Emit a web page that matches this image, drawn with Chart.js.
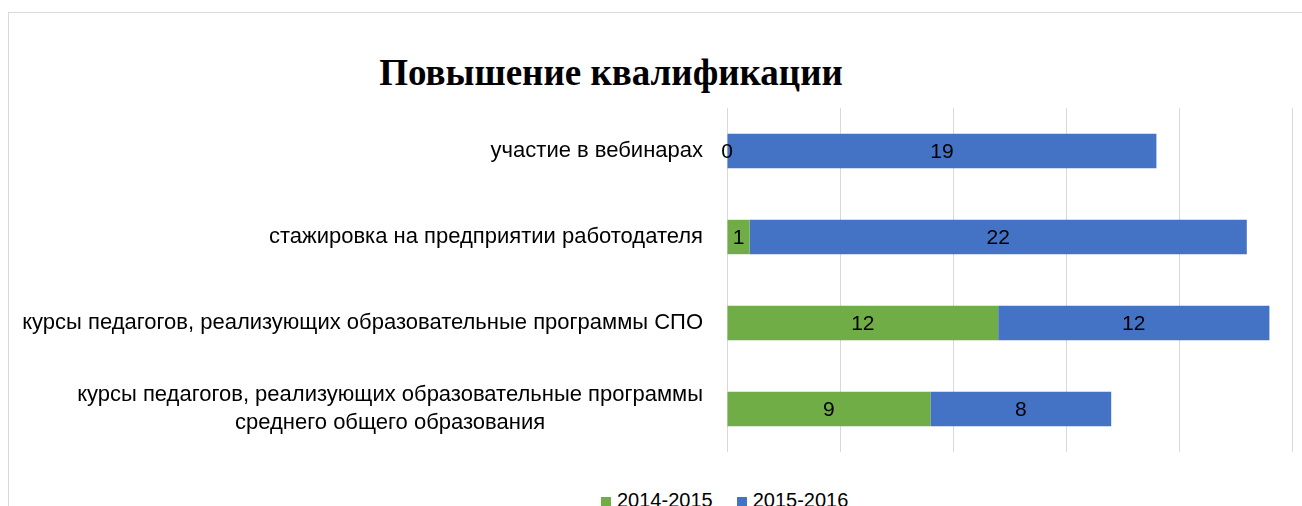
<!DOCTYPE html>
<html>
<head>
<meta charset="utf-8">
<script src="https://cdn.jsdelivr.net/npm/chart.js@4.4.1/dist/chart.umd.min.js"></script>
<style>
  html, body { margin: 0; padding: 0; background: #fff; }
  #wrap { position: relative; width: 1302px; height: 506px; overflow: hidden; }
  #frame { position: absolute; left: 8px; top: 12px; width: 1300px; height: 600px;
           border-left: 1px solid #d9d9d9; border-top: 1px solid #d9d9d9; }
  #title { position: absolute; left: 311px; width: 600px; top: 51px; text-align: center;
           font: bold 37px "Liberation Serif", "Times New Roman", serif; color: #000; }
  #legend { position: absolute; left: 601px; top: 489px; white-space: nowrap;
            font: 20px "Liberation Sans", sans-serif; color: #000; }
  #legend span.sw { display: inline-block; width: 10px; height: 10px; margin-right: 6px; }
  #legend span.item { margin-right: 24px; }
  canvas { position: absolute; left: 0; top: 0; }
</style>
</head>
<body>
<div id="wrap">
  <div id="frame"></div>
  <div id="title">Повышение квалификации</div>
  <div id="legend"></div>
  <canvas id="c" width="1302" height="506"></canvas>
</div>
<script>
// categories, top to bottom
const categories = [
  "участие в вебинарах",
  "стажировка на предприятии работодателя",
  "курсы педагогов, реализующих образовательные программы СПО",
  ["курсы педагогов, реализующих образовательные программы", "среднего общего образования"]
];
const series1Name = "2014-2015";
const series2Name = "2015-2016";
const series1 = [0, 1, 12, 9];
const series2 = [19, 22, 12, 8];
const xTicks = [0, 5, 10, 15, 20, 25];

const GREEN = "#70AD47", BLUE = "#4472C4";
const FONT = '"Liberation Sans", sans-serif';

// html legend
document.getElementById("legend").innerHTML =
  `<span class="item"><span class="sw" style="background:${GREEN}"></span>${series1Name}</span>` +
  `<span class="item"><span class="sw" style="background:${BLUE}"></span>${series2Name}</span>`;

const labelsPlugin = {
  id: "labelsPlugin",
  afterDatasetsDraw(chart) {
    const ctx = chart.ctx;
    ctx.save();
    ctx.fillStyle = "#000";
    ctx.font = "21px " + FONT;
    ctx.textAlign = "center";
    ctx.textBaseline = "middle";
    chart.data.datasets.forEach((ds, i) => {
      chart.getDatasetMeta(i).data.forEach((bar, j) => {
        ctx.fillText(String(ds.data[j]), (bar.x + bar.base) / 2, bar.y + 1);
      });
    });
    // category labels
    ctx.font = "22px " + FONT;
    const y = chart.scales.y;
    const right = chart.chartArea.left - 24;
    chart.data.labels.forEach((lab, j) => {
      const py = y.getPixelForValue(j);
      if (Array.isArray(lab)) {
        const w = Math.max(...lab.map(l => ctx.measureText(l).width));
        const cx = right - w / 2;
        ctx.textAlign = "center";
        const lh = 28;
        lab.forEach((l, k) => ctx.fillText(l, cx, py + (k - (lab.length - 1) / 2) * lh));
      } else {
        ctx.textAlign = "right";
        ctx.fillText(lab, right, py);
      }
    });
    ctx.restore();
  }
};

new Chart(document.getElementById("c"), {
  type: "bar",
  data: {
    labels: categories,
    datasets: [
      { label: series1Name, data: series1, backgroundColor: GREEN },
      { label: series2Name, data: series2, backgroundColor: BLUE }
    ]
  },
  options: {
    indexAxis: "y",
    responsive: false,
    animation: false,
    devicePixelRatio: 1,
    layout: { padding: { left: 727, right: 10, top: 108, bottom: 54 } },
    plugins: { legend: { display: false }, title: { display: false }, tooltip: { enabled: false } },
    datasets: { bar: { categoryPercentage: 1, barPercentage: 0.4 } },
    scales: {
      x: {
        stacked: true, min: 0, max: 25,
        afterBuildTicks: s => { s.ticks = xTicks.map(v => ({ value: v })); },
        ticks: { display: false },
        grid: { color: "#d9d9d9", lineWidth: 1, drawTicks: false },
        border: { display: false }
      },
      y: {
        stacked: true,
        ticks: { display: false },
        grid: { display: false, drawTicks: false },
        border: { display: false }
      }
    }
  },
  plugins: [labelsPlugin]
});
</script>
</body>
</html>
